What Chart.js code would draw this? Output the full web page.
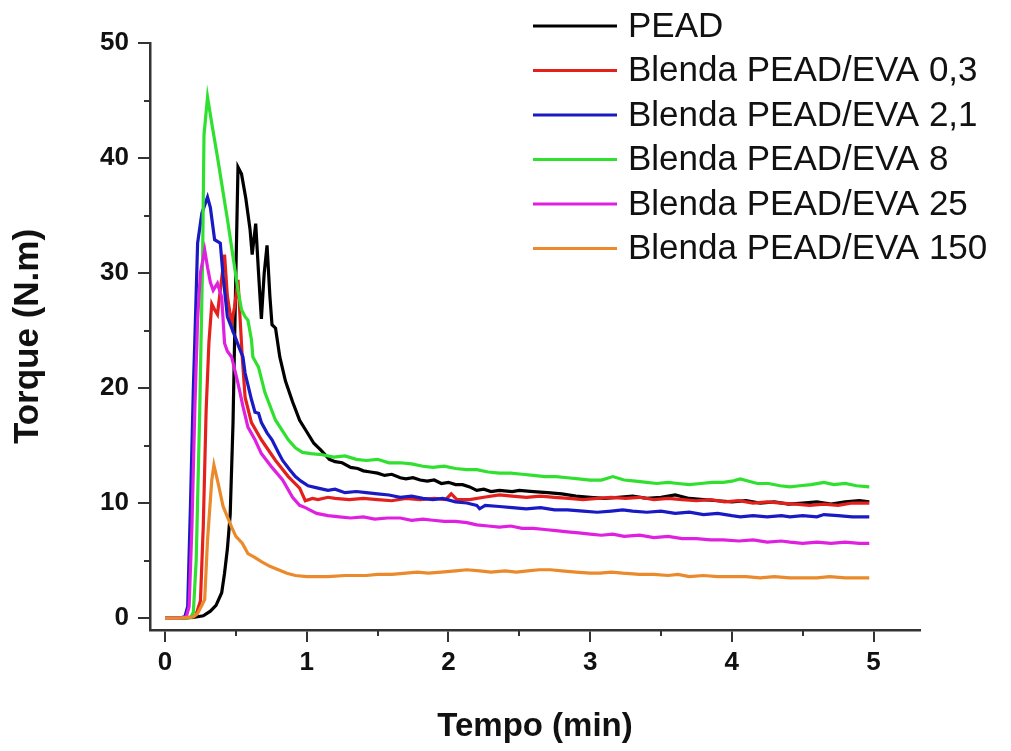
<!DOCTYPE html>
<html lang="pt">
  <head>
    <meta charset="UTF-8" />
    <title>Torque x Tempo</title>
    <script src="https://cdn.jsdelivr.net/npm/chart.js"></script>
    <style>
      body { margin: 0; background: #fff; }
    </style>
  </head>
  <body>
    <canvas id="torqueChart" width="1011" height="751"></canvas>

    <script>
      // [tempo (min), torque (N.m)]
      const pead = [[0,0],[0.1,0],[0.2,0.05],[0.27,0.2],[0.32,0.6],[0.36,1.1],[0.4,2.2],[0.42,3.9],[0.44,6],[0.46,9],[0.48,17],[0.5,30],[0.515,39.2],[0.54,38.6],[0.57,36.5],[0.6,33.8],[0.615,31.6],[0.64,34.3],[0.66,30],[0.68,26],[0.7,30],[0.72,32.4],[0.74,28],[0.755,25.5],[0.78,25.2],[0.81,22.7],[0.85,20.6],[0.9,18.8],[0.95,17.2],[1.0,16.2],[1.05,15.2],[1.1,14.6],[1.16,13.8],[1.2,13.6],[1.25,13.5],[1.31,13.1],[1.36,13.0],[1.4,12.8],[1.45,12.7],[1.5,12.6],[1.55,12.4],[1.6,12.5],[1.66,12.2],[1.7,12.1],[1.75,12.2],[1.8,12.0],[1.85,11.9],[1.9,12.0],[1.95,11.7],[2.0,11.8],[2.05,11.6],[2.1,11.6],[2.15,11.4],[2.2,11.1],[2.25,11.2],[2.3,11.0],[2.36,11.1],[2.45,11.0],[2.5,11.1],[2.6,11.0],[2.7,10.9],[2.8,10.8],[2.9,10.6],[3.0,10.5],[3.1,10.4],[3.2,10.5],[3.3,10.6],[3.4,10.4],[3.5,10.5],[3.6,10.7],[3.7,10.4],[3.8,10.3],[3.9,10.2],[4.0,10.1],[4.1,10.2],[4.2,10.0],[4.3,10.1],[4.4,9.9],[4.5,10.0],[4.6,10.1],[4.7,9.9],[4.8,10.1],[4.9,10.2],[4.97,10.1]];
      const blenda03 = [[0,0],[0.1,0],[0.18,0.05],[0.22,0.3],[0.25,1.5],[0.27,8],[0.29,18],[0.31,24],[0.33,27.3],[0.35,26.8],[0.37,26.4],[0.39,28.5],[0.42,31.6],[0.44,28],[0.47,25.6],[0.49,27],[0.515,29.4],[0.53,26],[0.545,22.7],[0.565,19.2],[0.61,17.0],[0.68,15.5],[0.78,13.7],[0.87,12.3],[0.95,11.3],[0.99,10.2],[1.04,10.4],[1.08,10.3],[1.15,10.5],[1.2,10.4],[1.3,10.3],[1.4,10.4],[1.5,10.3],[1.6,10.2],[1.7,10.4],[1.8,10.3],[1.9,10.4],[1.98,10.3],[2.02,10.8],[2.06,10.3],[2.15,10.3],[2.25,10.5],[2.36,10.7],[2.45,10.6],[2.55,10.5],[2.65,10.6],[2.75,10.5],[2.85,10.4],[2.95,10.3],[3.05,10.4],[3.15,10.5],[3.25,10.4],[3.35,10.5],[3.45,10.3],[3.55,10.4],[3.65,10.3],[3.75,10.2],[3.85,10.3],[3.95,10.1],[4.05,10.2],[4.15,10.0],[4.25,10.1],[4.35,10.0],[4.45,9.9],[4.55,9.8],[4.65,9.9],[4.75,9.8],[4.85,10.0],[4.97,10.0]];
      const blenda21 = [[0,0],[0.1,0],[0.14,0.1],[0.16,1],[0.18,10],[0.2,20],[0.21,24],[0.23,32.6],[0.26,35.2],[0.3,36.6],[0.32,35.7],[0.35,32.9],[0.39,32.6],[0.41,29.7],[0.44,26.2],[0.49,24.6],[0.53,23.3],[0.55,22.7],[0.565,21.3],[0.61,19.0],[0.635,17.9],[0.66,17.8],[0.68,17.0],[0.72,16.1],[0.755,15.5],[0.8,14.4],[0.83,13.7],[0.88,12.9],[0.92,12.3],[0.96,11.9],[1.01,11.5],[1.08,11.3],[1.15,11.1],[1.2,11.2],[1.27,10.9],[1.35,11.0],[1.42,10.9],[1.5,10.8],[1.58,10.7],[1.66,10.5],[1.74,10.6],[1.82,10.4],[1.89,10.3],[1.96,10.4],[2.05,10.1],[2.13,10.0],[2.2,9.8],[2.22,9.5],[2.26,9.8],[2.36,9.7],[2.45,9.6],[2.55,9.5],[2.65,9.6],[2.75,9.4],[2.84,9.4],[2.95,9.3],[3.05,9.2],[3.15,9.3],[3.23,9.4],[3.3,9.3],[3.4,9.2],[3.5,9.3],[3.6,9.1],[3.7,9.2],[3.8,9.0],[3.9,9.1],[4.0,8.9],[4.06,8.8],[4.15,8.9],[4.25,8.8],[4.35,8.9],[4.41,8.8],[4.5,8.9],[4.6,8.8],[4.65,9.0],[4.75,8.9],[4.85,8.8],[4.97,8.8]];
      const blenda8 = [[0,0],[0.1,0],[0.18,0.05],[0.2,0.5],[0.22,5],[0.245,18],[0.265,31],[0.275,42],[0.3,45.3],[0.33,43],[0.37,40.1],[0.445,34.3],[0.515,28.5],[0.54,26.8],[0.565,26.2],[0.585,25.9],[0.61,24.2],[0.62,22.7],[0.66,21.8],[0.705,19.6],[0.78,17.2],[0.87,15.5],[0.92,14.8],[0.97,14.4],[1.03,14.3],[1.11,14.2],[1.19,14.0],[1.27,14.1],[1.35,13.8],[1.42,13.7],[1.5,13.8],[1.58,13.5],[1.66,13.5],[1.74,13.4],[1.82,13.2],[1.89,13.1],[1.97,13.2],[2.05,13.0],[2.13,12.9],[2.2,12.9],[2.28,12.7],[2.36,12.6],[2.44,12.6],[2.52,12.5],[2.6,12.4],[2.68,12.3],[2.76,12.3],[2.84,12.2],[2.92,12.1],[3.0,12.0],[3.08,12.0],[3.16,12.3],[3.24,12.0],[3.32,11.9],[3.4,11.8],[3.47,11.7],[3.55,11.8],[3.62,11.7],[3.7,11.6],[3.78,11.7],[3.86,11.8],[3.94,11.8],[4.0,11.9],[4.06,12.1],[4.12,11.9],[4.18,11.7],[4.26,11.7],[4.34,11.5],[4.41,11.4],[4.48,11.5],[4.56,11.6],[4.65,11.8],[4.72,11.6],[4.8,11.7],[4.88,11.5],[4.97,11.4]];
      const blenda25 = [[0,0],[0.1,0],[0.15,0.1],[0.17,1],[0.19,8],[0.21,18],[0.23,26],[0.25,30],[0.28,32.0],[0.3,30.5],[0.32,29.2],[0.34,28.5],[0.37,29.1],[0.4,27.9],[0.42,23.9],[0.44,23.2],[0.47,22.7],[0.515,20.4],[0.55,18.4],[0.585,16.6],[0.635,15.5],[0.68,14.3],[0.755,13.1],[0.83,12.0],[0.9,10.5],[0.95,9.8],[0.99,9.6],[1.07,9.1],[1.15,8.9],[1.23,8.8],[1.31,8.7],[1.4,8.8],[1.48,8.6],[1.57,8.7],[1.66,8.7],[1.74,8.5],[1.82,8.6],[1.89,8.5],[1.97,8.4],[2.05,8.4],[2.13,8.3],[2.2,8.1],[2.28,8.0],[2.36,7.9],[2.44,8.0],[2.52,7.8],[2.6,7.8],[2.68,7.7],[2.76,7.6],[2.84,7.5],[2.92,7.4],[3.0,7.3],[3.08,7.2],[3.16,7.3],[3.24,7.1],[3.35,7.2],[3.45,7.0],[3.55,7.1],[3.65,6.9],[3.75,6.9],[3.85,6.8],[3.94,6.8],[4.05,6.7],[4.15,6.8],[4.25,6.6],[4.35,6.7],[4.41,6.6],[4.5,6.5],[4.6,6.6],[4.7,6.5],[4.8,6.6],[4.9,6.5],[4.97,6.5]];
      const blenda150 = [[0,0],[0.1,0],[0.2,0.1],[0.23,0.4],[0.28,1.6],[0.3,6.8],[0.33,12.0],[0.345,13.3],[0.375,11.7],[0.41,9.7],[0.47,7.9],[0.5,7.1],[0.545,6.5],[0.585,5.6],[0.63,5.3],[0.68,4.9],[0.74,4.5],[0.8,4.2],[0.86,3.9],[0.92,3.7],[1.0,3.6],[1.06,3.6],[1.15,3.6],[1.27,3.7],[1.35,3.7],[1.42,3.7],[1.5,3.8],[1.6,3.8],[1.7,3.9],[1.78,4.0],[1.86,3.9],[1.95,4.0],[2.05,4.1],[2.13,4.2],[2.22,4.1],[2.3,4.0],[2.4,4.1],[2.48,4.0],[2.56,4.1],[2.64,4.2],[2.72,4.2],[2.8,4.1],[2.9,4.0],[3.0,3.9],[3.07,3.9],[3.15,4.0],[3.23,3.9],[3.35,3.8],[3.45,3.8],[3.55,3.7],[3.62,3.8],[3.7,3.6],[3.8,3.7],[3.9,3.6],[4.0,3.6],[4.1,3.6],[4.2,3.5],[4.3,3.6],[4.41,3.5],[4.5,3.5],[4.6,3.5],[4.69,3.6],[4.8,3.5],[4.9,3.5],[4.97,3.5]];

      const seriesNames = ["PEAD", "Blenda PEAD/EVA 0,3", "Blenda PEAD/EVA 2,1", "Blenda PEAD/EVA 8", "Blenda PEAD/EVA 25", "Blenda PEAD/EVA 150"];
      const seriesData = [pead, blenda03, blenda21, blenda8, blenda25, blenda150];
      const seriesColors = ["#000000", "#e3201c", "#1a1ac4", "#2fe02f", "#e020e0", "#ea8a2c"];

      const xTicks = [0, 1, 2, 3, 4, 5];
      const xMinorTicks = [0.5, 1.5, 2.5, 3.5, 4.5];
      const yTicks = [0, 10, 20, 30, 40, 50];
      const yMinorTicks = [5, 15, 25, 35, 45];

      const FONT = "'Liberation Sans', Arial, sans-serif";
      const AXIS = "#333333";

      // short minor ticks, drawn through the scales
      const minorTicks = {
        id: "minorTicks",
        afterDraw(chart) {
          const { ctx, scales } = chart;
          const xs = scales.x, ys = scales.y;
          ctx.save();
          ctx.strokeStyle = AXIS;
          ctx.lineWidth = 2;
          ctx.beginPath();
          xMinorTicks.forEach((v) => {
            const px = Math.round(xs.getPixelForValue(v));
            ctx.moveTo(px, xs.top);
            ctx.lineTo(px, xs.top + 6);
          });
          yMinorTicks.forEach((v) => {
            const py = Math.round(ys.getPixelForValue(v));
            ctx.moveTo(ys.right, py);
            ctx.lineTo(ys.right - 6, py);
          });
          ctx.stroke();
          ctx.restore();
        },
      };

      // legend at top right, partly outside the plot box
      const sideLegend = {
        id: "sideLegend",
        afterDraw(chart) {
          const ctx = chart.ctx;
          ctx.save();
          ctx.font = "35px " + FONT;
          ctx.textBaseline = "middle";
          ctx.fillStyle = "#111";
          seriesNames.forEach((name, i) => {
            const y = 26 + i * 44.5;
            ctx.strokeStyle = seriesColors[i];
            ctx.lineWidth = 3;
            ctx.beginPath();
            ctx.moveTo(533, y);
            ctx.lineTo(617, y);
            ctx.stroke();
            ctx.fillText(name, 628, y + 1);
          });
          ctx.restore();
        },
      };

      const ctx = document.getElementById("torqueChart").getContext("2d");
      new Chart(ctx, {
        type: "line",
        data: {
          datasets: seriesData.map((pts, i) => ({
            label: seriesNames[i],
            data: pts.map((p) => ({ x: p[0], y: p[1] })),
            borderColor: seriesColors[i],
            borderWidth: 3.2,
            pointRadius: 0,
            tension: 0,
            fill: false,
            order: 5 - i,
          })),
        },
        options: {
          responsive: false,
          animation: false,
          layout: { padding: { top: 43, right: 91, bottom: 0, left: 0 } },
          plugins: {
            legend: { display: false },
            tooltip: { enabled: false },
          },
          scales: {
            x: {
              type: "linear",
              min: -0.106,
              max: 5.328,
              afterBuildTicks: (s) => { s.ticks = xTicks.map((v) => ({ value: v })); },
              afterFit: (s) => { s.height = 121; },
              border: { color: AXIS, width: 2.5 },
              grid: { drawOnChartArea: false, tickLength: 12, color: AXIS, lineWidth: 2 },
              ticks: {
                color: "#111",
                padding: 5,
                maxRotation: 0,
                font: { family: FONT, size: 26, weight: "bold" },
                callback: (v) => v,
              },
              title: {
                display: true,
                text: "Tempo (min)",
                color: "#111",
                font: { family: FONT, size: 33, weight: "bold" },
                padding: { top: 0, bottom: 4 },
              },
            },
            y: {
              min: -1.04,
              max: 50,
              afterBuildTicks: (s) => { s.ticks = yTicks.map((v) => ({ value: v })); },
              afterFit: (s) => { s.width = 150; },
              border: { color: AXIS, width: 2.5 },
              grid: { drawOnChartArea: false, tickLength: 12, color: AXIS, lineWidth: 2 },
              ticks: {
                color: "#111",
                padding: 9,
                font: { family: FONT, size: 26, weight: "bold" },
                callback: (v) => v,
              },
              title: {
                display: true,
                text: "Torque (N.m)",
                color: "#111",
                font: { family: FONT, size: 35, weight: "bold" },
                padding: { top: 7, bottom: 0 },
              },
            },
          },
        },
        plugins: [minorTicks, sideLegend],
      });
    </script>
  </body>
</html>
